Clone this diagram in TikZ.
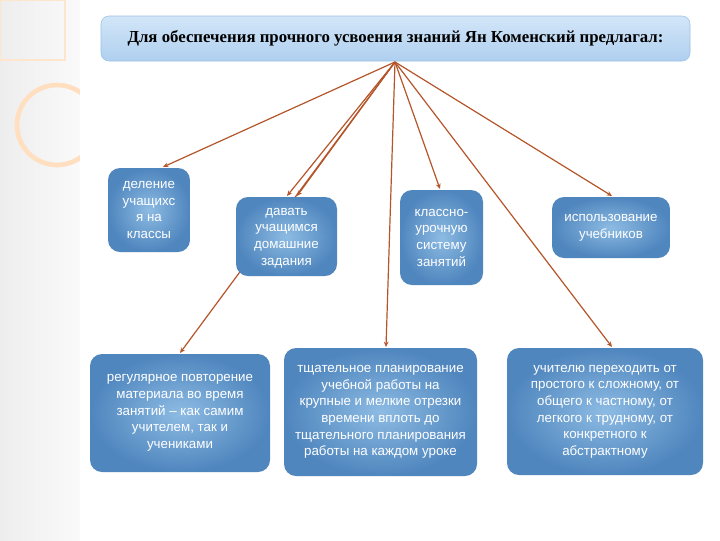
\documentclass[tikz,border=0pt]{standalone}
\usepackage{fontspec}
\setmainfont{Liberation Sans}
\newfontfamily\titlefont{Liberation Serif}
\usetikzlibrary{arrows.meta}
\definecolor{boxin}{HTML}{8DBBE3}
\definecolor{boxout}{HTML}{4F86BE}
\definecolor{linec}{HTML}{B5552A}
\definecolor{titletop}{HTML}{D2E6F8}
\definecolor{titlebot}{HTML}{AFCFEF}
\definecolor{titledraw}{HTML}{9DC0E4}
\tikzset{
 bx/.style={rounded corners=9pt, inner color=boxin, outer color=boxout, draw=none},
 bt/.style={text=white, font=\fontsize{10}{12.5}\selectfont, align=center},
 con/.style={draw=linec, line width=0.9pt, -{Stealth[length=4pt,width=3.5pt]}}
}
\begin{document}
\begin{tikzpicture}[x=0.75pt,y=-0.75pt]
\useasboundingbox (0,0) rectangle (720,540);
\fill[white] (0,0) rectangle (720,540);
\shade[left color=gray!14, right color=gray!4] (0,0) rectangle (80,540);
\draw[orange!20, line width=0.8pt] (0,0) rectangle (65,60);
\draw[orange!15, line width=0.8pt] (70,0) arc (0:-200:60 and 62);
\draw[orange!25, line width=3.5pt] (57,125) circle (40);
\fill[white] (80,0) rectangle (720,540);
% top
\node[rounded corners=6pt, top color=titletop, bottom color=titlebot, draw=titledraw, minimum width=589*0.75pt, minimum height=45*0.75pt, font=\titlefont\bfseries\fontsize{12.6}{14}\selectfont] (top) at (395.5,38.5) {Для обеспечения прочного усвоения знаний Ян Коменский предлагал:};
\coordinate (hub) at (395,62);
% endpoints
\coordinate (e1) at (163,167);
\coordinate (e2a) at (287,196);
\coordinate (e2b) at (297,196);
\coordinate (e3) at (440,189);
\coordinate (e4) at (612,196);
\coordinate (e5) at (180,353);
\coordinate (e6) at (386,347);
\coordinate (e7) at (612,347);
\foreach \e in {e1,e2a,e2b,e3,e4,e5,e6,e7} \draw[con] (hub) -- (\e);
% boxes
\path[bx] (108,168) rectangle (190,252);
\node[bt] (b1) at (149,210) {деление\\учащихс\\я на\\классы};
\path[bx] (236,197) rectangle (337,276);
\node[bt] (b2) at (286.5,238) {давать\\учащимся\\домашние\\задания};
\path[bx] (400,190) rectangle (483,285);
\node[bt] (b3) at (441.5,237.5) {классно-\\урочную\\систему\\занятий};
\path[bx] (552,197) rectangle (670,258);
\node[bt] (b4) at (611,227.5) {использование\\учебников};
\path[bx] (90,354) rectangle (270,472);
\node[bt] (b5) at (180,413) {регулярное повторение\\материала во время\\занятий -- как самим\\учителем, так и\\учениками};
\path[bx] (284,348) rectangle (477,476);
\node[bt] (b6) at (380.5,412) {тщательное планирование\\учебной работы на\\крупные и мелкие отрезки\\времени вплоть до\\тщательного планирования\\работы на каждом уроке};
\path[bx] (507,348) rectangle (703,475);
\node[bt] (b7) at (605,411.5) {учителю переходить от\\простого к сложному, от\\общего к частному, от\\легкого к трудному, от\\конкретного к\\абстрактному};
\end{tikzpicture}
\end{document}
